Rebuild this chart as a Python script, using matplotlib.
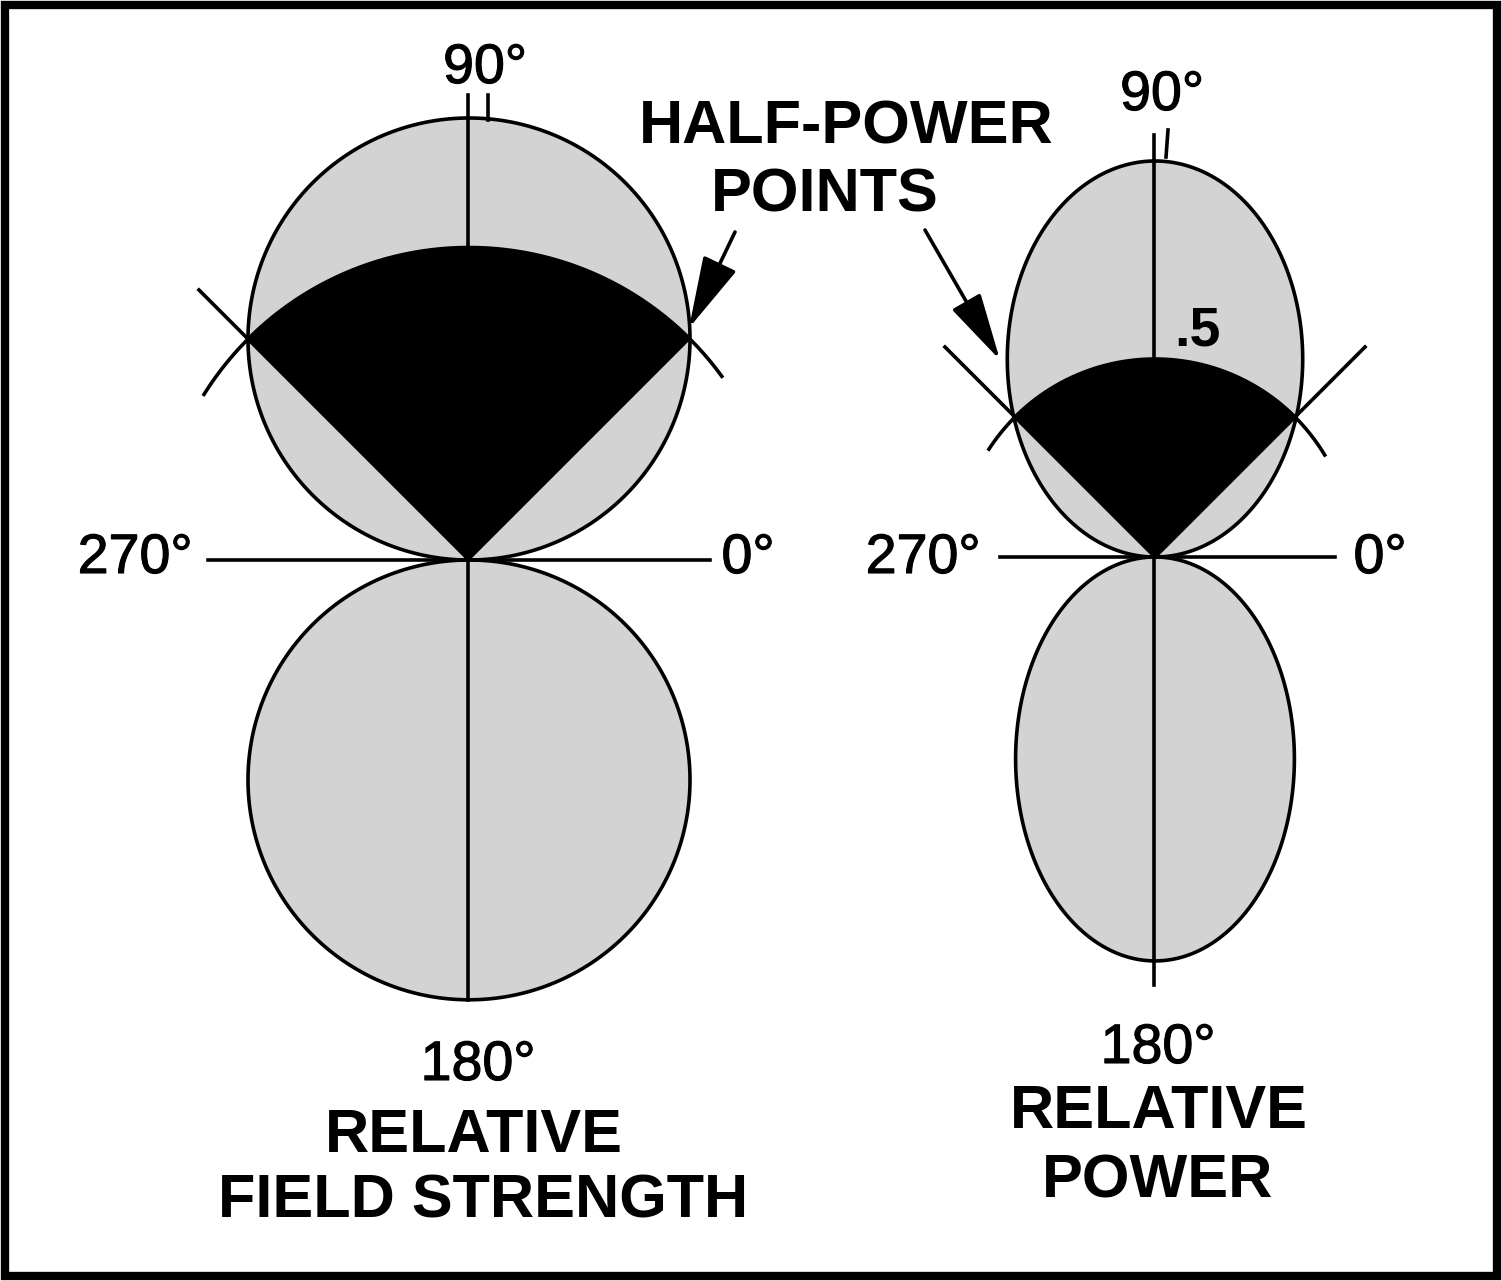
import numpy as np
import matplotlib.pyplot as plt
import matplotlib.patheffects as pe

W, H = 1502, 1281

# radiation pattern data (relative units, max lobe length = 1)
# each lobe drawn as an oval tangent at the origin: (relative half-width, length)
lobes_upper = [(0.500, 1.00), (0.373, 1.00)]
lobes_lower = [(0.500, 0.995), (0.352, 1.02)]
half_power = [0.707, 0.5]     # relative level at the half-power points
beam_edges = [45, 135]        # half-power angles, degrees
arc_spans = [(36, 148), (31, 147)]          # drawn extent of the half-power arc
radial_ext = [[(135, 0.864)], [(135, 0.75), (45, 0.75)]]
titles = [["RELATIVE", "FIELD STRENGTH"], ["RELATIVE", "POWER"]]
deg_labels = ["0°", "90°", "180°", "270°"]

# layout (pixel units)
origins = [(469, 560), (1155, 557)]
scales = [442, 396]
gray = "#d3d3d3"
lw = 2.6

fig = plt.figure(figsize=(W / 100, H / 100), dpi=100)
ax = fig.add_axes([0, 0, 1, 1])
ax.set_xlim(0, W)
ax.set_ylim(H, 0)
ax.axis("off")

t = np.radians(np.linspace(0, 360, 721))
for i in range(2):
    ox, oy = origins[i]
    s = scales[i]
    for (hw, ln), sign in ((lobes_upper[i], -1), (lobes_lower[i], 1)):
        a, b = hw * s, ln * s / 2
        ax.fill(ox + a * np.cos(t), oy + sign * (b + b * np.sin(t)),
                facecolor=gray, edgecolor="black", lw=lw, zorder=1)

    # black beam sector between half-power points
    rr = half_power[i] * s
    a = np.radians(np.linspace(beam_edges[0], beam_edges[1], 200))
    xs = np.concatenate([[ox], ox + rr * np.cos(a), [ox]])
    ys = np.concatenate([[oy], oy - rr * np.sin(a), [oy]])
    ax.fill(xs, ys, facecolor="black", edgecolor="black", lw=1, zorder=2)

    # half-power arc, extended past the points
    a = np.radians(np.linspace(arc_spans[i][0], arc_spans[i][1], 200))
    ax.plot(ox + rr * np.cos(a), oy - rr * np.sin(a), color="black", lw=lw, zorder=3)
    for ang, ln in radial_ext[i]:
        th = np.radians(ang)
        ax.plot([ox, ox + ln * s * np.cos(th)], [oy, oy - ln * s * np.sin(th)],
                color="black", lw=lw, zorder=3)

# axes lines
ax.plot([468, 468], [95, 1000], color="black", lw=lw, zorder=4)
ax.plot([488, 488], [95, 120], color="black", lw=lw, zorder=4)
ax.plot([208, 710], [560, 560], color="black", lw=lw, zorder=4)
ax.plot([1154, 1154], [135, 985], color="black", lw=lw, zorder=4)
ax.plot([1168, 1166], [130, 157], color="black", lw=lw, zorder=4)
ax.plot([1000, 1335], [557, 557], color="black", lw=lw, zorder=4)

font = dict(family="Liberation Sans", color="black", ha="center", va="baseline")
thick = [pe.withStroke(linewidth=0.8, foreground="black")]
deg_fs = 40
# left pattern labels
ax.text(485, 83, deg_labels[1], fontsize=deg_fs, path_effects=thick, **font)
ax.text(135, 573, deg_labels[3], fontsize=deg_fs, path_effects=thick, **font)
ax.text(748, 573, deg_labels[0], fontsize=deg_fs, path_effects=thick, **font)
ax.text(478, 1080, deg_labels[2], fontsize=deg_fs, path_effects=thick, **font)
ax.text(474, 1152, titles[0][0], fontsize=44, fontweight="bold", **font)
ax.text(483, 1217, titles[0][1], fontsize=44, fontweight="bold", **font)
# right pattern labels
ax.text(1162, 110, deg_labels[1], fontsize=deg_fs, path_effects=thick, **font)
ax.text(923, 573, deg_labels[3], fontsize=deg_fs, path_effects=thick, **font)
ax.text(1380, 573, deg_labels[0], fontsize=deg_fs, path_effects=thick, **font)
ax.text(1158, 1063, deg_labels[2], fontsize=deg_fs, path_effects=thick, **font)
ax.text(1159, 1128, titles[1][0], fontsize=44, fontweight="bold", **font)
ax.text(1158, 1198, titles[1][1], fontsize=44, fontweight="bold", **font)
ax.text(1197, 345, ".5", fontsize=40, fontweight="bold", **font)

# half-power callout
ax.text(846, 143, "HALF-POWER", fontsize=44, fontweight="bold", **font)
ax.text(825, 212, "POINTS", fontsize=44, fontweight="bold", **font)
ax.annotate("", xy=(689, 328), xytext=(735, 232),
            arrowprops=dict(arrowstyle="-|>,head_length=1.5,head_width=0.38",
                            mutation_scale=30, lw=2.6, color="black",
                            shrinkA=0, shrinkB=0), zorder=5)
ax.annotate("", xy=(1000, 360), xytext=(925, 230),
            arrowprops=dict(arrowstyle="-|>,head_length=1.4,head_width=0.34",
                            mutation_scale=30, lw=2.6, color="black",
                            shrinkA=0, shrinkB=0), zorder=5)

# frame
fig.patches.append(plt.Rectangle((0.003, 0.004), 0.994, 0.992, transform=fig.transFigure,
                                 fill=False, edgecolor="black", lw=6))

fig.savefig("out.png", dpi=100)
